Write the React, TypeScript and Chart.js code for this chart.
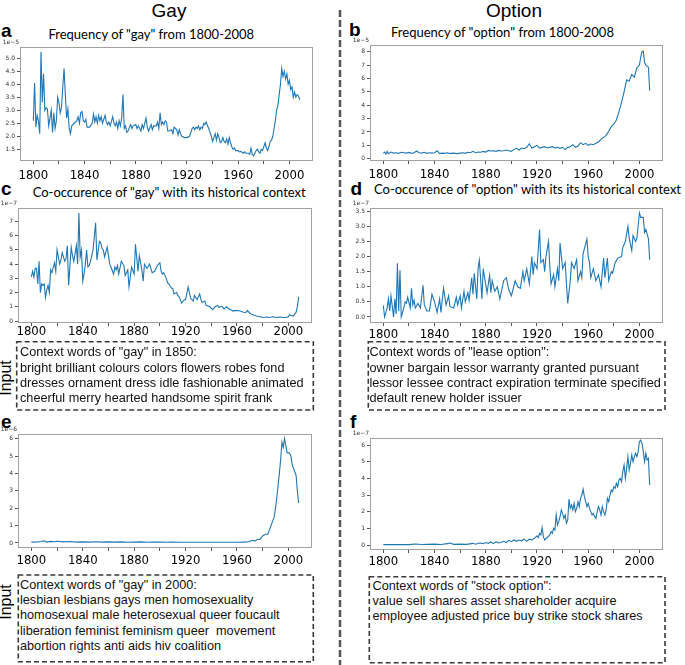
import React, { useEffect, useRef } from "react";
import { Chart, registerables } from "chart.js";

Chart.register(...registerables);

// ---------- data ----------
const xTickYears = [1800, 1820, 1840, 1860, 1880, 1900, 1920, 1940, 1960, 1980, 2000];
const xLabelYears = [1800, 1840, 1880, 1920, 1960, 2000];

// a: frequency of "gay" (1e-5)
const aYears = [1800,1801,1802,1803,1804,1805,1806,1807,1808,1809,1810,1811,1812,1813,1814,1815,1816,1817,1818,1819,1820,1821,1822,1823,1824,1825,1826,1827,1828,1829,1830,1832,1834,1835,1836,1837,1838,1839,1840,1841,1842,1844,1846,1847,1848,1849,1850,1851,1852,1853,1854,1856,1857,1858,1859,1860,1862,1863,1864,1865,1866,1867,1868,1869,1870,1871,1872,1873,1874,1876,1877,1878,1880,1881,1882,1884,1885,1886,1888,1889,1890,1892,1893,1894,1896,1897,1898,1899,1900,1901,1902,1903,1904,1905,1906,1908,1909,1910,1912,1913,1914,1915,1916,1918,1920,1922,1924,1925,1926,1927,1928,1929,1930,1931,1932,1933,1934,1935,1936,1937,1938,1939,1940,1941,1942,1943,1944,1945,1946,1947,1948,1949,1950,1951,1952,1953,1954,1955,1956,1957,1958,1960,1961,1962,1964,1965,1966,1968,1969,1970,1971,1972,1973,1974,1975,1976,1977,1978,1979,1980,1981,1982,1983,1984,1985,1986,1987,1988,1989,1990,1991,1992,1993,1994,1995,1996,1997,1998,1999,2000,2001,2002,2003,2004,2005,2006,2007,2008];
const aVals = [2.6,4.05,2.35,2.8,2.6,2.1,5.25,3.3,4.4,3.0,3.1,3.05,2.4,2.7,3.0,2.15,2.9,2.3,2.6,3.5,3.3,2.9,3.1,3.9,4.6,3.6,2.7,3.05,2.3,2.1,2.4,2.5,2.6,2.75,2.5,2.9,2.95,2.6,2.55,2.65,2.35,2.35,2.5,2.85,2.55,2.75,2.5,2.8,2.6,2.75,2.5,2.8,2.55,2.45,2.55,2.4,2.75,2.5,2.4,2.55,2.3,2.6,2.4,2.7,3.6,2.3,2.4,2.15,2.2,2.45,2.3,2.4,2.45,2.3,2.4,2.2,2.45,2.3,2.7,2.35,2.2,2.45,2.25,2.4,2.4,2.55,2.3,2.9,2.45,2.55,2.45,2.6,2.55,2.2,2.2,2.25,2.1,2.35,2.25,2.05,2.25,2.1,2.0,1.95,1.95,2.0,2.3,2.35,2.25,2.35,2.3,2.4,2.25,2.35,2.3,2.5,2.45,2.55,2.4,2.3,2.15,2.0,1.8,1.95,2.1,1.85,2.1,1.95,1.75,1.8,1.95,1.8,1.75,1.9,1.7,1.95,1.75,1.6,1.5,1.55,1.45,1.45,1.4,1.42,1.35,1.4,1.35,1.35,1.3,1.55,1.3,1.25,1.35,1.45,1.5,1.4,1.35,1.5,1.45,1.6,1.75,1.55,1.45,1.6,1.8,1.85,2.0,2.3,2.6,3.0,3.2,3.6,4.0,4.6,4.3,4.5,4.2,4.4,4.0,4.15,3.8,3.9,3.5,3.7,3.5,3.6,3.55,3.4];
const aTicks = [1.5, 2.0, 2.5, 3.0, 3.5, 4.0, 4.5, 5.0];

// b: frequency of "option" (1e-5)
const bYears = [1800,1801,1802,1803,1804,1806,1808,1810,1812,1814,1816,1818,1820,1822,1824,1826,1828,1830,1832,1834,1836,1838,1840,1842,1844,1846,1848,1850,1852,1854,1856,1858,1860,1862,1864,1866,1868,1870,1872,1874,1876,1878,1880,1882,1884,1886,1888,1890,1892,1894,1896,1898,1900,1902,1904,1906,1908,1910,1912,1914,1916,1918,1920,1922,1924,1926,1928,1930,1932,1934,1936,1938,1940,1942,1944,1946,1948,1950,1952,1954,1956,1958,1960,1962,1964,1966,1968,1970,1972,1974,1976,1978,1980,1982,1984,1986,1988,1990,1992,1994,1996,1998,2000,2001,2002,2003,2004,2005,2006,2007,2008];
const bVals = [0.4,0.5,0.35,0.55,0.38,0.5,0.42,0.45,0.4,0.48,0.45,0.42,0.47,0.4,0.45,0.58,0.45,0.42,0.48,0.4,0.45,0.42,0.45,0.6,0.38,0.42,0.4,0.45,0.38,0.42,0.4,0.38,0.42,0.45,0.4,0.48,0.45,0.55,0.45,0.5,0.48,0.55,0.5,0.62,0.58,0.6,0.55,0.62,0.58,0.6,0.65,0.6,0.55,0.7,0.78,0.65,0.8,0.75,0.85,1.12,0.8,0.9,1.0,0.8,0.85,0.9,0.8,0.85,0.9,0.8,0.85,0.78,0.85,0.68,0.85,0.9,1.05,0.85,0.95,1.2,1.05,1.15,1.0,1.1,1.05,1.15,1.25,1.45,1.6,1.75,2.05,2.4,2.6,2.9,3.5,4.2,5.0,5.9,5.8,6.3,6.1,6.8,7.0,7.6,8.0,8.05,7.2,7.0,6.9,6.85,5.1];
const bTicks = [0, 1, 2, 3, 4, 5, 6, 7, 8];

// c: co-occurrence of "gay" with its historical context (1e-7)
const cYears = [1800,1801,1802,1803,1804,1805,1806,1807,1808,1809,1810,1811,1812,1813,1814,1815,1816,1818,1819,1820,1822,1823,1824,1826,1827,1828,1829,1831,1832,1833,1835,1836,1837,1838,1839,1840,1841,1842,1843,1844,1845,1846,1848,1850,1851,1853,1854,1855,1856,1857,1859,1861,1862,1864,1865,1866,1867,1868,1870,1872,1873,1875,1876,1878,1880,1881,1883,1884,1886,1887,1888,1890,1892,1894,1896,1897,1898,1900,1901,1902,1903,1905,1906,1907,1909,1910,1911,1913,1914,1915,1917,1919,1920,1922,1924,1926,1927,1929,1931,1932,1933,1935,1936,1939,1941,1943,1945,1946,1948,1950,1952,1953,1954,1957,1959,1962,1965,1967,1968,1970,1972,1975,1978,1980,1983,1985,1988,1991,1993,1996,1998,2000,2001,2002,2004,2005,2006,2007,2008];
const cVals = [3.1,3.5,3.1,3.7,3.7,2.6,4.2,2.0,2.6,2.5,2.6,1.65,2.2,2.5,2.0,3.6,3.4,4.1,3.5,5.0,4.0,4.3,4.8,4.2,4.4,5.3,2.5,5.2,4.6,4.2,5.3,4.0,7.6,4.5,5.0,2.8,3.3,4.0,5.0,3.8,3.9,4.2,5.0,6.9,4.3,5.6,5.5,5.1,5.0,4.5,5.2,4.0,3.8,3.3,3.8,3.6,3.9,3.3,4.2,3.9,3.2,3.6,2.4,3.8,3.3,5.4,3.5,4.6,3.6,2.8,4.0,3.7,4.0,3.4,3.5,3.7,3.9,4.1,3.5,3.3,3.4,3.0,2.7,2.6,2.3,2.3,1.9,2.0,1.8,1.7,1.25,1.5,1.5,2.4,1.6,1.4,1.8,1.5,1.9,1.5,1.3,1.4,1.1,1.0,0.8,1.0,1.1,0.95,1.05,0.85,1.0,0.9,0.85,0.7,0.75,0.72,0.62,0.6,0.75,0.55,0.45,0.35,0.3,0.25,0.28,0.25,0.3,0.25,0.28,0.25,0.25,0.3,0.45,0.4,0.35,0.5,0.6,1.0,1.7];
const cTicks = [0, 1, 2, 3, 4, 5, 6, 7];

// d: co-occurrence of "option" with its historical context (1e-7)
const dYears = [1800,1801,1803,1804,1805,1806,1808,1809,1810,1811,1812,1813,1814,1816,1817,1818,1819,1821,1822,1823,1824,1825,1827,1829,1831,1832,1834,1836,1838,1840,1842,1844,1845,1847,1849,1851,1852,1855,1857,1858,1860,1861,1863,1864,1866,1867,1869,1870,1871,1873,1874,1875,1877,1878,1881,1883,1884,1885,1887,1889,1891,1894,1896,1898,1900,1903,1905,1907,1909,1910,1912,1914,1916,1917,1918,1920,1922,1923,1925,1926,1927,1929,1930,1931,1933,1934,1936,1937,1938,1940,1942,1943,1944,1946,1947,1949,1951,1952,1954,1955,1956,1959,1960,1961,1962,1964,1966,1968,1970,1972,1973,1975,1976,1978,1979,1981,1983,1986,1987,1989,1991,1992,1994,1995,1997,1998,2000,2001,2003,2004,2005,2007,2008];
const dVals = [0.38,0.0,0.3,0.6,0.2,0.7,0.0,0.6,0.1,1.78,0.2,1.55,0.0,0.3,0.5,0.45,0.65,0.3,0.95,0.4,0.55,0.3,0.45,0.3,1.05,0.4,0.2,0.2,0.75,0.5,0.15,0.6,0.15,0.95,0.4,0.7,0.35,0.3,0.65,0.4,0.7,0.3,0.85,0.5,0.8,0.55,1.3,0.75,1.45,0.6,1.6,1.88,0.6,1.6,0.8,1.38,0.8,1.2,0.85,1.0,0.6,1.2,1.3,0.9,0.7,1.2,1.0,0.95,1.5,1.2,1.6,1.1,2.0,1.4,1.8,1.6,2.9,1.8,1.9,1.5,2.0,2.5,1.7,1.1,1.4,1.0,1.6,1.2,2.45,1.6,1.8,1.1,0.45,1.2,1.8,1.6,1.9,1.2,1.5,1.3,2.1,2.58,2.0,1.8,1.3,1.6,1.2,1.4,1.0,1.95,1.3,1.95,1.2,1.5,1.45,1.8,1.95,2.0,2.3,2.5,3.0,2.6,2.2,2.7,2.5,2.6,3.45,3.3,3.3,2.8,2.9,2.6,1.9];
const dTicks = [0.0, 0.5, 1.0, 1.5, 2.0, 2.5, 3.0, 3.5];

// e: "gay" in 2000 context (1e-6)
const eYears = [1800,1805,1808,1810,1812,1815,1818,1820,1825,1830,1835,1840,1845,1850,1855,1860,1865,1870,1875,1880,1885,1890,1895,1900,1905,1910,1915,1920,1925,1930,1935,1940,1945,1950,1955,1960,1965,1968,1970,1972,1974,1976,1978,1980,1982,1984,1986,1988,1989,1990,1991,1992,1993,1994,1995,1996,1997,1998,1999,2000,2001,2002,2003,2004,2005,2006,2007,2008];
const eVals = [0.05,0.06,0.08,0.12,0.05,0.09,0.07,0.1,0.06,0.08,0.05,0.06,0.05,0.07,0.05,0.06,0.05,0.06,0.04,0.05,0.06,0.04,0.05,0.05,0.04,0.05,0.04,0.04,0.04,0.04,0.04,0.04,0.04,0.04,0.04,0.04,0.05,0.06,0.08,0.15,0.12,0.2,0.22,0.4,0.5,0.5,0.9,1.3,1.5,2.0,2.6,3.3,4.0,4.8,5.8,5.5,6.0,5.6,5.2,5.2,5.15,5.0,4.5,4.3,4.1,3.9,3.0,2.3];
const eTicks = [0, 1, 2, 3, 4, 5, 6];

// f: "stock option" context (1e-7)
const fYears = [1800,1805,1810,1815,1820,1825,1830,1835,1840,1845,1850,1852,1855,1860,1865,1870,1872,1875,1878,1880,1882,1884,1886,1888,1890,1892,1894,1896,1898,1900,1902,1904,1906,1908,1910,1912,1914,1916,1918,1920,1921,1922,1923,1924,1925,1926,1928,1930,1931,1932,1933,1934,1935,1936,1937,1938,1939,1940,1941,1942,1943,1944,1945,1946,1947,1948,1949,1950,1951,1952,1953,1954,1955,1956,1957,1958,1959,1960,1961,1962,1963,1964,1965,1966,1967,1968,1969,1970,1971,1972,1973,1974,1975,1976,1977,1978,1979,1980,1981,1982,1983,1984,1985,1986,1987,1988,1989,1990,1991,1992,1993,1994,1995,1996,1997,1998,1999,2000,2001,2002,2003,2004,2005,2006,2007,2008];
const fVals = [0.02,0.03,0.02,0.03,0.02,0.06,0.03,0.04,0.05,0.03,0.08,0.12,0.04,0.05,0.04,0.1,0.05,0.12,0.08,0.15,0.1,0.18,0.08,0.2,0.12,0.15,0.22,0.15,0.28,0.2,0.3,0.22,0.3,0.25,0.35,0.22,0.35,0.3,0.4,0.55,0.45,0.7,0.6,1.05,0.5,0.3,0.45,0.6,0.8,0.7,1.0,0.9,1.8,1.2,1.4,1.7,2.1,1.9,1.6,1.8,1.3,1.5,2.75,2.2,2.4,2.1,2.5,2.0,2.2,2.6,2.3,2.8,3.0,3.35,2.9,2.6,2.3,2.5,2.2,2.0,1.8,1.9,1.7,1.6,2.0,2.3,2.1,1.8,2.3,2.0,1.8,2.1,2.8,2.6,3.0,3.3,3.2,3.5,3.4,3.7,3.5,3.9,4.0,3.8,4.4,4.8,4.0,4.6,5.3,4.5,4.9,5.4,5.0,5.3,5.5,5.3,5.6,6.2,6.3,6.1,5.6,5.0,5.5,5.1,5.2,3.6];
const fTicks = [0, 1, 2, 3, 4, 5, 6];

// ---------- chart panel ----------
const LINE = "#1f77b4";
const TICK_FONT = '"Liberation Sans Narrow", "DejaVu Sans Condensed", sans-serif';
const PAD_L = 22, PAD_T = 12, PAD_R = 4, PAD_B = 26;

type Box = { l: number; t: number; r: number; b: number };
type PanelProps = {
  years: number[]; vals: number[]; yMin: number; yMax: number; yTicks: number[];
  dec: number; exp: string; box: Box; labelPad: number;
};

function Panel({ years, vals, yMin, yMax, yTicks, dec, exp, box, labelPad }: PanelProps) {
  const ref = useRef<HTMLCanvasElement>(null);
  const w = box.r - box.l + PAD_L + PAD_R;
  const h = box.b - box.t + PAD_T + PAD_B;
  useEffect(() => {
    const frame = {
      id: "frame",
      afterDraw(chart: any) {
        const { ctx, chartArea } = chart;
        const { left, top, right, bottom } = chartArea;
        ctx.save();
        ctx.strokeStyle = "#a0a0a0";
        ctx.lineWidth = 1;
        ctx.strokeRect(left + 0.5, top + 0.5, right - left - 1, bottom - top - 1);
        ctx.fillStyle = "#333";
        ctx.font = '6px "DejaVu Sans"';
        ctx.textAlign = "right";
        ctx.textBaseline = "alphabetic";
        ctx.fillText(exp, left - 1, top - 3);
        ctx.restore();
      },
    };
    const chart = new Chart(ref.current as HTMLCanvasElement, {
      type: "line",
      data: {
        datasets: [
          {
            data: years.map((y, i) => ({ x: y, y: vals[i] })),
            borderColor: LINE,
            borderWidth: 1.1,
            pointRadius: 0,
            tension: 0,
            fill: false,
          },
        ],
      },
      options: {
        responsive: false,
        animation: false,
        layout: { padding: { top: PAD_T, right: PAD_R, left: 0, bottom: 0 } },
        plugins: { legend: { display: false }, tooltip: { enabled: false }, title: { display: false } },
        scales: {
          x: {
            type: "linear",
            min: 1789.6,
            max: 2018.4,
            afterBuildTicks: (s: any) => { s.ticks = xTickYears.map((v) => ({ value: v })); },
            afterFit: (s: any) => { s.height = PAD_B; },
            ticks: {
              autoSkip: false,
              maxRotation: 0,
              padding: labelPad,
              color: "#000",
              font: { family: TICK_FONT, size: 13 },
              callback: (v: any) => (xLabelYears.includes(Number(v)) ? String(v) : ""),
            },
            grid: { drawOnChartArea: false, drawTicks: true, tickLength: 3, color: "#555" },
            border: { display: false },
          },
          y: {
            type: "linear",
            min: yMin,
            max: yMax,
            afterBuildTicks: (s: any) => { s.ticks = yTicks.map((v) => ({ value: v })); },
            afterFit: (s: any) => { s.width = PAD_L; },
            ticks: {
              padding: 2,
              color: "#333",
              font: { family: '"DejaVu Sans"', size: 6 },
              callback: (v: any) => Number(v).toFixed(dec),
            },
            grid: { drawOnChartArea: false, drawTicks: true, tickLength: 3, color: "#555" },
            border: { display: false },
          },
        },
      },
      plugins: [frame],
    });
    return () => chart.destroy();
  }, []);
  return (
    <canvas
      ref={ref}
      width={w}
      height={h}
      style={{ position: "absolute", left: box.l - PAD_L, top: box.t - PAD_T, width: w, height: h }}
    />
  );
}

// ---------- text helpers ----------
const SANS = '"Liberation Sans", Arial, sans-serif';
const TITLE_FONT = 'Lato, "Open Sans", sans-serif';

function Txt({ x, y, size, text, bold, center, family }: { x: number; y: number; size: number; text: string; bold?: boolean; center?: boolean; family?: string }) {
  return (
    <div
      style={{
        position: "absolute", left: x, top: y, fontSize: size, lineHeight: 1,
        fontFamily: family || SANS, fontWeight: bold ? 700 : 400, whiteSpace: "nowrap", color: "#000",
        transform: center ? "translateX(-50%)" : undefined,
      }}
    >
      {text}
    </div>
  );
}

function Para({ x, y, lines }: { x: number; y: number; lines: string[] }) {
  return (
    <div style={{ position: "absolute", left: x, top: y, fontFamily: SANS, fontSize: 12.7, lineHeight: "15.3px", whiteSpace: "pre", color: "#111" }}>
      {lines.join("\n")}
    </div>
  );
}

function InputLabel({ cx, cy }: { cx: number; cy: number }) {
  return (
    <div style={{ position: "absolute", left: cx, top: cy, fontFamily: SANS, fontSize: 16, lineHeight: 1, whiteSpace: "nowrap", transform: "translate(-50%, -50%) rotate(-90deg)" }}>
      Input
    </div>
  );
}

const gay1850 = ['Context words of "gay" in 1850:', "bright brilliant colours colors flowers robes fond", "dresses ornament dress idle fashionable animated", "cheerful merry hearted handsome spirit frank"];
const lease = ['Context words of "lease option":', "owner bargain lessor warranty granted pursuant", "lessor lessee contract expiration terminate specified", "default renew holder issuer"];
const gay2000 = ['Context words of "gay" in 2000:', "lesbian lesbians gays men homosexuality", "homosexual male heterosexual queer foucault", "liberation feminist feminism queer  movement", "abortion rights anti aids hiv coalition"];
const stock = ['Context words of "stock option":', "value sell shares asset shareholder acquire", "employee adjusted price buy strike stock shares"];

export default function App() {
  return (
    <div style={{ position: "fixed", left: 0, top: 0, width: 685, height: 665, background: "#fff", overflow: "hidden" }}>
      <svg width={685} height={665} style={{ position: "absolute", left: 0, top: 0 }}>
        <line x1={340} y1={10} x2={340} y2={665} stroke="#555" strokeWidth={2.5} strokeDasharray="7 3" />
        <g fill="none" stroke="#3a3a3a" strokeWidth={1.6} strokeDasharray="5 3">
          <rect x={16.7} y={341.7} width={296.6} height={68.3} />
          <rect x={368.3} y={341.7} width={296.7} height={68.3} />
          <rect x={18.3} y={575} width={295} height={86.7} />
          <rect x={369.3} y={576.7} width={295.7} height={86} />
        </g>
      </svg>

      <Txt x={169} y={1} size={19} text="Gay" center />
      <Txt x={514} y={1} size={19} text="Option" center />

      <Txt x={1} y={20.5} size={19} text="a" bold />
      <Txt x={349} y={20} size={19} text="b" bold />
      <Txt x={1} y={179} size={19} text="c" bold />
      <Txt x={350.5} y={179} size={19} text="d" bold />
      <Txt x={1} y={412} size={19} text="e" bold />
      <Txt x={350} y={412} size={19} text="f" bold />

      <Txt x={151.3} y={28} size={13} text={'Frequency of "gay" from 1800-2008'} center family={TITLE_FONT} />
      <Txt x={502.5} y={26} size={13} text={'Frequency of "option" from 1800-2008'} center family={TITLE_FONT} />
      <Txt x={169.2} y={186} size={13} text={'Co-occurence of "gay" with its historical context'} center family={TITLE_FONT} />
      <Txt x={527.5} y={183} size={13} text={'Co-occurence of "option" with its its historical context'} center family={TITLE_FONT} />

      <Panel years={aYears} vals={aVals} yMin={1.05} yMax={5.43} yTicks={aTicks} dec={1} exp="1e−5" box={{ l: 20, t: 47, r: 313, b: 161 }} labelPad={3.5} />
      <Panel years={bYears} vals={bVals} yMin={-0.17} yMax={8.5} yTicks={bTicks} dec={0} exp="1e−5" box={{ l: 370, t: 45, r: 663, b: 161 }} labelPad={3} />
      <Panel years={cYears} vals={cVals} yMin={-0.14} yMax={7.95} yTicks={cTicks} dec={0} exp="1e−7" box={{ l: 18, t: 208, r: 312, b: 323 }} labelPad={-2} />
      <Panel years={dYears} vals={dVals} yMin={-0.2} yMax={3.61} yTicks={dTicks} dec={1} exp="1e−7" box={{ l: 370, t: 208, r: 663, b: 323 }} labelPad={1} />
      <Panel years={eYears} vals={eVals} yMin={-0.29} yMax={6.27} yTicks={eTicks} dec={0} exp="1e−6" box={{ l: 18, t: 434, r: 312, b: 548 }} labelPad={1.5} />
      <Panel years={fYears} vals={fVals} yMin={-0.3} yMax={6.42} yTicks={fTicks} dec={0} exp="1e−7" box={{ l: 370, t: 438, r: 663, b: 550 }} labelPad={0.5} />

      <InputLabel cx={6} cy={378} />
      <InputLabel cx={6} cy={602} />

      <Para x={20} y={345.3} lines={gay1850} />
      <Para x={369.5} y={345.3} lines={lease} />
      <Para x={20} y={577.7} lines={gay2000} />
      <Para x={372.5} y={578.8} lines={stock} />
    </div>
  );
}
